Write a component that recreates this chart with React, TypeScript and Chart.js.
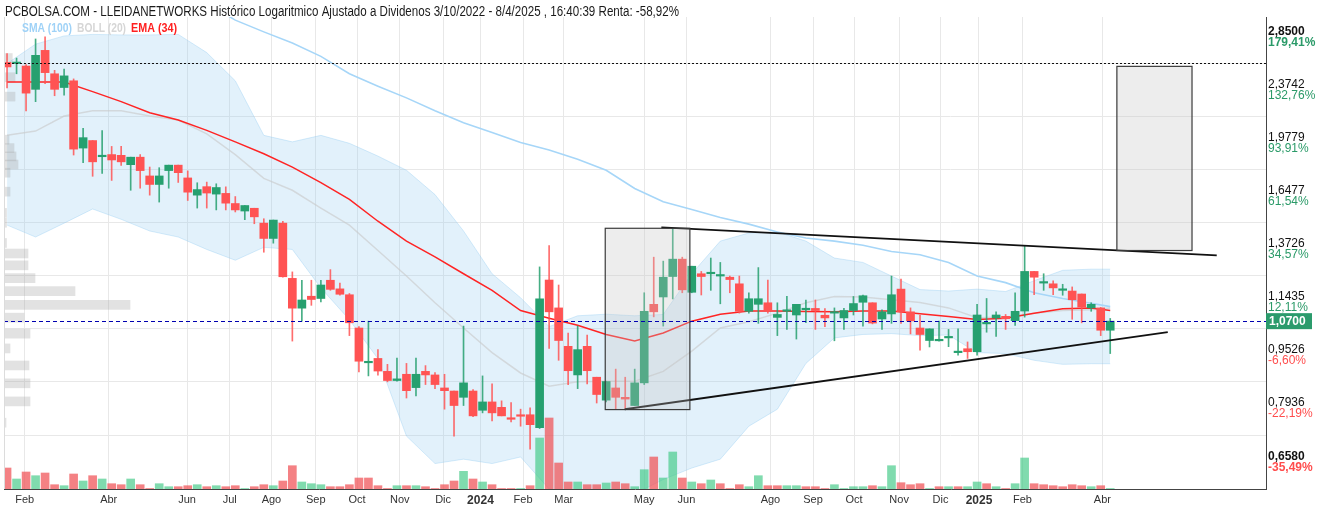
import React, { useEffect, useRef } from 'react';
import { Chart, registerables } from 'chart.js';

Chart.register(...registerables);

const FONT = '"Liberation Sans", Arial, Helvetica, sans-serif';
const NARROW = '"Liberation Sans Narrow", "Arial Narrow", "Liberation Sans", Arial, sans-serif';

const titleText =
  'PCBOLSA.COM - LLEIDANETWORKS Histórico Logaritmico Ajustado a Dividenos 3/10/2022 - 8/4/2025 , 16:40:39 Renta: -58,92%';

// ---- weekly candles (index 0 = first visible week) ----
const opens = [
  2.61, 2.60, 2.578, 2.379, 2.721, 2.51, 2.394, 2.45, 1.943, 1.994,
  1.886, 1.90, 1.895, 1.835, 1.883, 1.765, 1.714, 1.798, 1.832, 1.753,
  1.652, 1.701, 1.658, 1.662, 1.605, 1.564, 1.579, 1.50, 1.423, 1.50,
  1.24, 1.119, 1.166, 1.157, 1.232, 1.196, 1.172, 1.045, 0.927, 0.941,
  0.90, 0.872, 0.891, 0.851, 0.90, 0.889, 0.85, 0.841, 0.823, 0.841,
  0.787, 0.81, 0.795, 0.767, 0.772, 0.775, 0.741, 1.233, 1.12, 0.981,
  0.889, 0.981, 0.882, 0.815, 0.85, 0.823, 0.80, 0.865, 1.134, 1.163,
  1.248, 1.325, 1.182, 1.26, 1.26, 1.25, 1.245, 1.217, 1.107, 1.134,
  1.14, 1.084, 1.107, 1.093, 1.113, 1.118, 1.092, 1.10, 1.082, 1.11,
  1.142, 1.14, 1.078, 1.097, 1.195, 1.105, 1.045, 1.001, 1.0, 1.01,
  0.96, 0.973, 0.963, 1.06, 1.082, 1.088, 1.072, 1.108, 1.27, 1.22,
  1.217, 1.19, 1.187, 1.175, 1.12, 1.12, 1.037,
];
const highs = [
  2.69, 2.65, 2.59, 2.83, 2.85, 2.54, 2.552, 2.466, 2.08, 1.994,
  2.063, 1.954, 1.954, 1.883, 1.90, 1.82, 1.816, 1.832, 1.832, 1.796,
  1.724, 1.728, 1.718, 1.70, 1.644, 1.594, 1.579, 1.523, 1.516, 1.51,
  1.268, 1.232, 1.232, 1.232, 1.278, 1.22, 1.177, 1.05, 1.07, 0.97,
  0.922, 0.942, 0.925, 0.942, 0.918, 0.896, 0.891, 0.841, 1.052, 0.845,
  0.886, 0.862, 0.813, 0.808, 0.79, 0.794, 1.29, 1.388, 1.212, 1.027,
  1.052, 1.02, 0.882, 0.87, 0.907, 0.882, 0.907, 1.18, 1.334, 1.316,
  1.472, 1.334, 1.293, 1.27, 1.33, 1.31, 1.25, 1.25, 1.18, 1.287,
  1.233, 1.14, 1.166, 1.134, 1.151, 1.151, 1.117, 1.12, 1.118, 1.165,
  1.171, 1.14, 1.113, 1.25, 1.237, 1.12, 1.092, 1.042, 1.07, 1.04,
  1.042, 0.996, 1.134, 1.157, 1.105, 1.095, 1.18, 1.388, 1.27, 1.26,
  1.23, 1.215, 1.204, 1.175, 1.14, 1.122, 1.08,
];
const lows = [
  2.39, 2.51, 2.208, 2.28, 2.426, 2.327, 2.332, 1.897, 1.847, 1.763,
  1.78, 1.738, 1.83, 1.68, 1.692, 1.652, 1.613, 1.692, 1.726, 1.622,
  1.58, 1.58, 1.57, 1.57, 1.559, 1.518, 1.497, 1.357, 1.40, 1.245,
  0.999, 1.07, 1.13, 1.1435, 1.19, 1.17, 1.018, 0.898, 0.886, 0.888,
  0.868, 0.87, 0.821, 0.827, 0.86, 0.848, 0.79, 0.72, 0.80, 0.77,
  0.78, 0.759, 0.772, 0.756, 0.745, 0.688, 0.739, 0.974, 0.935, 0.86,
  0.848, 0.862, 0.807, 0.81, 0.79, 0.79, 0.80, 0.86, 1.086, 1.052,
  1.155, 1.18, 1.18, 1.171, 1.19, 1.136, 1.18, 1.10, 1.10, 1.062,
  1.10, 1.018, 1.04, 1.006, 1.064, 1.04, 1.05, 1.0, 1.04, 1.093,
  1.052, 1.06, 1.04, 1.062, 1.062, 1.024, 0.968, 0.979, 0.999, 0.98,
  0.952, 0.941, 0.952, 1.03, 1.015, 1.04, 1.054, 1.085, 1.172, 1.19,
  1.172, 1.17, 1.077, 1.064, 1.107, 1.018, 0.957,
];
const closes = [
  2.57, 2.61, 2.348, 2.675, 2.52, 2.379, 2.492, 1.936, 2.014, 1.853,
  1.89, 1.865, 1.853, 1.883, 1.798, 1.714, 1.765, 1.832, 1.785, 1.669,
  1.684, 1.664, 1.696, 1.607, 1.57, 1.594, 1.533, 1.423, 1.516, 1.247,
  1.119, 1.151, 1.153, 1.212, 1.194, 1.174, 1.064, 0.932, 0.931, 0.901,
  0.872, 0.877, 0.842, 0.891, 0.889, 0.86, 0.842, 0.80, 0.865, 0.772,
  0.81, 0.78, 0.772, 0.763, 0.771, 0.749, 1.156, 1.105, 1.001, 0.902,
  0.97, 0.902, 0.831, 0.869, 0.823, 0.818, 0.865, 1.107, 1.105, 1.245,
  1.325, 1.192, 1.293, 1.248, 1.265, 1.252, 1.235, 1.107, 1.156, 1.156,
  1.11, 1.095, 1.11, 1.134, 1.115, 1.11, 1.082, 1.105, 1.11, 1.137,
  1.168, 1.063, 1.105, 1.172, 1.105, 1.071, 1.022, 1.042, 1.003, 1.011,
  0.962, 0.963, 1.093, 1.062, 1.093, 1.079, 1.107, 1.27, 1.245, 1.223,
  1.20, 1.192, 1.152, 1.123, 1.134, 1.037, 1.07,
];
// weekly volume (thousand shares)
const volumes = [
  210, 100, 170, 133, 160, 43, 33, 150, 80, 133,
  100, 53, 43, 100, 43, 5, 53, 23, 23, 33,
  43, 23, 33, 23, 33, 5, 23, 43, 33, 80,
  233, 70, 53, 43, 23, 23, 43, 110, 110, 33,
  5, 33, 33, 33, 23, 5, 43, 80, 177, 100,
  70, 43, 5, 5, 5, 33, 510, 710, 260, 70,
  70, 43, 43, 60, 70, 53, 23, 193, 320, 110,
  370, 110, 70, 53, 90, 53, 5, 43, 23, 133,
  33, 33, 33, 33, 23, 23, 5, 43, 5, 23,
  23, 33, 23, 233, 63, 43, 53, 5, 23, 23,
  23, 23, 70, 53, 23, 5, 53, 310, 53, 43,
  33, 23, 43, 33, 23, 33, 5,
];

const bandIdx = [
  0, 3, 6, 9, 12, 15, 18, 21, 24, 27, 30, 33, 36, 39, 42, 45, 48, 51, 54, 57,
  60, 63, 66, 69, 72, 75, 78, 81, 84, 87, 90, 93, 96, 99, 102, 105, 108, 111, 114, 116,
];
const bollUpper = [
  2.60, 2.78, 2.86, 2.875, 2.87, 2.87, 2.875, 2.70, 2.45, 2.03,
  1.985, 2.03, 1.975, 1.89, 1.80, 1.655, 1.46, 1.26, 1.16, 1.05,
  1.09, 1.096, 1.09, 1.095, 1.26, 1.41, 1.45, 1.455, 1.41, 1.33,
  1.31, 1.25, 1.193, 1.187, 1.195, 1.185, 1.23, 1.275, 1.28, 1.28,
];
const bollMid = [
  2.03, 2.06, 2.17, 2.21, 2.21, 2.17, 2.14, 2.04, 1.90, 1.75,
  1.68, 1.58, 1.49, 1.365, 1.25, 1.14, 1.045, 0.96, 0.895, 0.855,
  0.868, 0.87, 0.87, 0.90, 0.965, 1.045, 1.068, 1.10, 1.14, 1.165,
  1.163, 1.152, 1.141, 1.12, 1.083, 1.085, 1.10, 1.11, 1.113, 1.12,
];
const bollLower = [
  1.49, 1.43, 1.50, 1.575, 1.52, 1.46, 1.43, 1.37, 1.32, 1.38,
  1.37, 1.20, 1.075, 0.94, 0.72, 0.655, 0.665, 0.655, 0.67, 0.60,
  0.58, 0.58, 0.59, 0.62, 0.645, 0.665, 0.745, 0.79, 0.925, 1.01,
  1.022, 1.025, 1.018, 1.02, 0.96, 0.957, 0.935, 0.922, 0.924, 0.924,
];
const ema34 = [
  2.44, 2.44, 2.44, 2.36, 2.28, 2.195, 2.14, 2.065, 1.985, 1.905,
  1.82, 1.725, 1.628, 1.51, 1.41, 1.335, 1.26, 1.19, 1.11, 1.081,
  1.055, 1.022, 0.999, 1.027, 1.07, 1.096, 1.108, 1.108, 1.106, 1.105,
  1.108, 1.108, 1.098, 1.087, 1.076, 1.081, 1.10, 1.117, 1.12, 1.11,
];
const smaIdx = [
  21, 24, 27, 30, 33, 36, 39, 42, 45, 48, 51, 54, 57, 60, 63, 66, 69,
  72, 75, 78, 81, 84, 87, 90, 93, 96, 99, 102, 105, 108, 111, 114, 116,
];
const sma100 = [
  3.20, 3.02, 2.90, 2.79, 2.665, 2.51, 2.405, 2.31, 2.21, 2.12,
  2.05, 1.98, 1.93, 1.87, 1.80, 1.69, 1.615, 1.572, 1.53, 1.495,
  1.455, 1.425, 1.41, 1.39, 1.36, 1.345, 1.31, 1.25, 1.222, 1.18,
  1.157, 1.138, 1.125,
];

// ---- volume by price profile ----
const profilePrices = [
  2.65, 2.48, 2.32, 2.0, 1.943, 1.888, 1.836, 1.785, 1.672, 1.554, 1.502, 1.401,
  1.351, 1.297, 1.241, 1.187, 1.132, 1.083, 1.025, 0.974, 0.9185, 0.8636, 0.8115, 0.754,
];
const profileVolumes = [
  83, 110, 110, 50, 100, 120, 140, 60, 60, 25, 25, 25,
  240, 240, 310, 710, 1260, 200, 260, 60, 250, 260, 260, 20,
];

// ---- drawings ----
const trendUpperX = [68.8, 127.2];
const trendUpperY = [1.4786, 1.342];
const trendLowerX = [64.95, 122.05];
const trendLowerY = [0.7898, 1.0306];
const boxStartX = [62.9, 116.7];
const boxEndX = [71.8, 124.6];
const boxTop = [1.4737, 2.575];
const boxBottom = [0.7889, 1.365];
const dottedLevel = 2.605;
const lastPrice = 1.07;
const lastPriceLabel = '1,0700';
const basePrice = 1.02;

// ---- axes ----
const priceTicks = [2.85, 2.3742, 1.9779, 1.6477, 1.3726, 1.1435, 0.9526, 0.7936, 0.658];
const priceTickLabels = ['2,8500', '2,3742', '1,9779', '1,6477', '1,3726', '1,1435', '0,9526', '0,7936', '0,6580'];
const pctTickLabels = ['179,41%', '132,76%', '93,91%', '61,54%', '34,57%', '12,11%', '-6,60%', '-22,19%', '-35,49%'];
const monthTickPos = [
  1.86, 10.69, 18.93, 23.42, 27.8, 32.46, 36.8, 41.29, 45.85, 49.78, 54.26, 58.54,
  67.0, 71.44, 80.27, 84.75, 89.06, 93.8, 98.15, 102.2, 106.77, 115.18,
];
const monthTickLabels = [
  'Feb', 'Abr', 'Jun', 'Jul', 'Ago', 'Sep', 'Oct', 'Nov', 'Dic', '2024', 'Feb', 'Mar',
  'May', 'Jun', 'Ago', 'Sep', 'Oct', 'Nov', 'Dic', '2025', 'Feb', 'Abr',
];

const X_MIN = -0.32;
const X_MAX = 132.38;
const Y_MIN = 0.6184;
const Y_MAX = 3.0526;

const GREEN = '#26a06f';
const RED = '#ff5353';

function tickIndex(v: number) {
  let best = 0;
  let d = Infinity;
  priceTicks.forEach((p, i) => {
    const dd = Math.abs(Math.log(p) - Math.log(v));
    if (dd < d) { d = dd; best = i; }
  });
  return best;
}

const extrasPlugin = {
  id: 'extras',
  afterDatasetsDraw(chart: any) {
    const { ctx, chartArea: ca, scales } = chart;
    const xs = scales.x;
    const ys = scales.y;
    ctx.save();
    ctx.beginPath();
    ctx.rect(ca.left, ca.top, ca.right - ca.left, ca.bottom - ca.top);
    ctx.clip();
    boxStartX.forEach((x0, i) => {
      const x1 = xs.getPixelForValue(x0);
      const x2 = xs.getPixelForValue(boxEndX[i]);
      const y1 = ys.getPixelForValue(boxTop[i]);
      const y2 = ys.getPixelForValue(boxBottom[i]);
      ctx.fillStyle = 'rgba(195,195,195,0.3)';
      ctx.fillRect(x1, y1, x2 - x1, y2 - y1);
      ctx.strokeStyle = '#3a3a3a';
      ctx.lineWidth = 1.2;
      ctx.strokeRect(x1, y1, x2 - x1, y2 - y1);
    });
    const yd = Math.round(ys.getPixelForValue(dottedLevel)) + 0.5;
    ctx.strokeStyle = '#111';
    ctx.lineWidth = 1;
    ctx.setLineDash([2, 2]);
    ctx.beginPath();
    ctx.moveTo(ca.left, yd);
    ctx.lineTo(ca.right, yd);
    ctx.stroke();
    const yl = Math.round(ys.getPixelForValue(lastPrice)) + 0.5;
    ctx.strokeStyle = '#0000b0';
    ctx.setLineDash([4, 3]);
    ctx.beginPath();
    ctx.moveTo(ca.left, yl);
    ctx.lineTo(ca.right, yl);
    ctx.stroke();
    ctx.setLineDash([]);
    ctx.strokeStyle = '#dcdcdc';
    ctx.beginPath();
    ctx.moveTo(ca.left + 0.5, ca.top);
    ctx.lineTo(ca.left + 0.5, ca.bottom);
    ctx.stroke();
    ctx.restore();
  },
  afterDraw(chart: any) {
    const { ctx, chartArea: ca, scales } = chart;
    const ys = scales.y;
    ctx.save();
    ctx.textBaseline = 'middle';
    ctx.textAlign = 'left';
    ctx.fillStyle = '#1a1a1a';
    ctx.font = `14px ${NARROW}`;
    ctx.fillText(titleText, 5, 12.5, 674);
    ctx.font = `bold 12px ${NARROW}`;
    const items = [
      { t: 'SMA (100)', c: '#9fd2f7', x: 22, w: 50 },
      { t: 'BOLL (20)', c: '#d6d6d6', x: 77, w: 49 },
      { t: 'EMA (34)', c: '#ff2020', x: 131, w: 46 },
    ];
    items.forEach((it) => {
      ctx.fillStyle = it.c;
      ctx.fillText(it.t, it.x, 29, it.w);
    });
    ys.ticks.forEach((tk: any) => {
      const i = tickIndex(tk.value);
      const py = ys.getPixelForValue(tk.value);
      const bold = i === 0 || i === priceTicks.length - 1;
      ctx.font = `${bold ? 'bold ' : ''}12px ${FONT}`;
      ctx.fillStyle = priceTicks[i] >= basePrice ? '#2a9a68' : '#ff4d4d';
      ctx.fillText(pctTickLabels[i], ca.right + 2, py + 5.4);
    });
    const yl = ys.getPixelForValue(lastPrice);
    ctx.fillStyle = '#2b9b6c';
    ctx.fillRect(ca.right, yl - 8, 46, 16);
    ctx.fillStyle = '#ffffff';
    ctx.font = `bold 12px ${FONT}`;
    ctx.fillText(lastPriceLabel, ca.right + 3, yl + 0.5);
    ctx.restore();
  },
};

export default function App() {
  const ref = useRef<HTMLCanvasElement>(null);
  useEffect(() => {
    const canvas = ref.current;
    if (!canvas) return;
    const idx = opens.map((_, i) => i);
    const up = closes.map((c, i) => c >= opens[i]);
    const volUp = closes.map((c, i) => (i === 0 ? c >= opens[0] : c >= closes[i - 1]));
    const line = (xsArr: number[], ysArr: number[]) => xsArr.map((x, i) => ({ x, y: ysArr[i] }));

    const datasets: any[] = [
      {
        type: 'line', label: 'BOLL up', data: line(bandIdx, bollUpper),
        borderColor: 'rgba(140,200,240,0.35)', borderWidth: 1, pointRadius: 0, fill: false, order: 30,
      },
      {
        type: 'line', label: 'BOLL low', data: line(bandIdx, bollLower),
        borderColor: 'rgba(140,200,240,0.35)', borderWidth: 1, pointRadius: 0,
        fill: '-1', backgroundColor: 'rgba(150,205,240,0.28)', order: 30,
      },
      {
        type: 'bar', label: 'Perfil', indexAxis: 'y', xAxisID: 'xProf', yAxisID: 'y',
        data: profilePrices.map((p, i) => ({ x: profileVolumes[i], y: p })),
        backgroundColor: 'rgba(160,160,160,0.3)', barThickness: 9, grouped: false, order: 25,
      },
      {
        type: 'bar', label: 'Volumen', xAxisID: 'x', yAxisID: 'yVol',
        data: idx.map((i) => ({ x: i, y: volumes[i] })),
        backgroundColor: volUp.map((u) => (u ? 'rgba(60,200,130,0.65)' : 'rgba(240,80,85,0.72)')),
        barThickness: 8, grouped: false, order: 24,
      },
      {
        type: 'line', label: 'BOLL mid', data: line(bandIdx, bollMid),
        borderColor: 'rgba(200,200,200,0.6)', borderWidth: 1.5, pointRadius: 0, fill: false, order: 20,
      },
      {
        type: 'line', label: 'SMA (100)', data: line(smaIdx, sma100),
        borderColor: '#a6d6f8', borderWidth: 1.6, pointRadius: 0, fill: false, order: 19,
      },
      {
        type: 'line', label: 'EMA (34)', data: line(bandIdx, ema34),
        borderColor: '#ff2424', borderWidth: 1.5, pointRadius: 0, fill: false, order: 18,
      },
      {
        type: 'bar', label: 'wicks', xAxisID: 'x', yAxisID: 'y',
        data: idx.map((i) => ({ x: i, y: [lows[i], highs[i]] })),
        backgroundColor: up.map((u) => (u ? 'rgba(38,160,111,0.85)' : 'rgba(255,83,83,0.85)')),
        barThickness: 1, grouped: false, order: 10,
      },
      {
        type: 'bar', label: 'bodies', xAxisID: 'x', yAxisID: 'y',
        data: idx.map((i) => ({ x: i, y: [opens[i], closes[i]] })),
        backgroundColor: up.map((u) => (u ? GREEN : RED)),
        barThickness: 8, grouped: false, minBarLength: 1.5, order: 9,
      },
      {
        type: 'line', label: 'trend up', data: line(trendUpperX, trendUpperY),
        borderColor: '#111', borderWidth: 1.8, pointRadius: 0, fill: false, order: 2,
      },
      {
        type: 'line', label: 'trend low', data: line(trendLowerX, trendLowerY),
        borderColor: '#111', borderWidth: 1.8, pointRadius: 0, fill: false, order: 2,
      },
    ];

    const chart = new Chart(canvas, {
      type: 'bar',
      data: { datasets },
      options: {
        animation: false,
        responsive: false,
        maintainAspectRatio: false,
        events: [],
        layout: { padding: { left: 4, top: 17, right: 0, bottom: 0 } },
        plugins: { legend: { display: false }, tooltip: { enabled: false }, title: { display: false } },
        scales: {
          x: {
            type: 'linear', position: 'bottom', min: X_MIN, max: X_MAX, offset: false,
            grid: { color: '#e8e8e8', lineWidth: 1, drawTicks: false, offset: false },
            border: { display: true, color: '#444', width: 1 },
            ticks: {
              autoSkip: false, maxRotation: 0, minRotation: 0, padding: 4, color: '#333',
              font: (c: any) => {
                const lab = monthTickLabels[c.index] || '';
                const yr = /^\d{4}$/.test(lab);
                return { family: FONT, size: yr ? 12 : 11, weight: yr ? 'bold' : 'normal' };
              },
              callback: (_v: any, i: number) => monthTickLabels[i],
            },
            afterBuildTicks: (s: any) => { s.ticks = monthTickPos.map((v) => ({ value: v })); },
            afterFit: (s: any) => { s.height = 23; },
          },
          y: {
            type: 'logarithmic', position: 'right', min: Y_MIN, max: Y_MAX,
            grid: { color: '#e8e8e8', lineWidth: 1, drawTicks: false },
            border: { display: true, color: '#444', width: 1 },
            ticks: {
              padding: 2, color: '#111',
              font: (c: any) => {
                const i = c.tick ? tickIndex(c.tick.value) : 1;
                const bold = i === 0 || i === priceTicks.length - 1;
                return { family: FONT, size: 12, weight: bold ? 'bold' : 'normal', lineHeight: 0.9 };
              },
              callback: (v: any) => [priceTickLabels[tickIndex(Number(v))], ''],
            },
            afterBuildTicks: (s: any) => {
              s.ticks = priceTicks.slice().reverse().map((v) => ({ value: v }));
            },
            afterFit: (s: any) => { s.width = 54; },
          },
          yVol: { type: 'linear', display: false, min: 0, max: 4720, position: 'left', offset: false },
          xProf: {
            type: 'linear', display: false, min: 0, max: 12620, position: 'top',
            offset: false, grid: { offset: false },
          },
        },
      } as any,
      plugins: [extrasPlugin],
    } as any);
    return () => chart.destroy();
  }, []);

  return (
    <div style={{ position: 'fixed', left: 0, top: 0, width: 1320, height: 512, background: '#fff' }}>
      <canvas ref={ref} width={1320} height={512} style={{ display: 'block', width: 1320, height: 512 }} />
    </div>
  );
}
